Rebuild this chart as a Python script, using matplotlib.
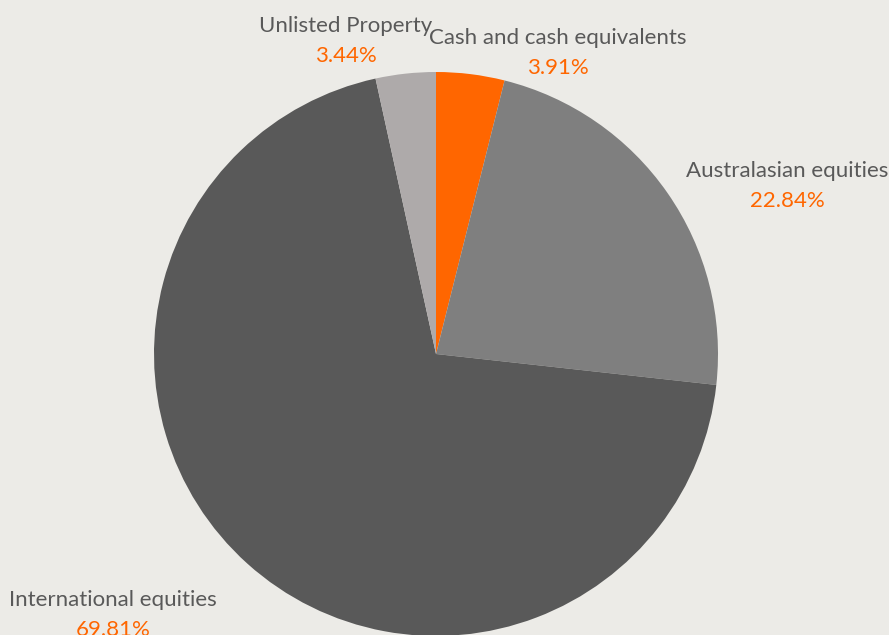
import matplotlib
matplotlib.use("Agg")
import matplotlib.pyplot as plt

categories = ["Cash and cash equivalents", "Australasian equities",
              "International equities", "Unlisted Property"]
values = [3.91, 22.84, 69.81, 3.44]
colors = ["#FF6600", "#7F7F7F", "#595959", "#AEAAAA"]
# label anchor positions in pixel space (x, y from top)
label_pos = [(558, 38), (787, 171), (113, 600), (346, 26)]

W, H = 889, 635
bg = "#ECEBE7"
fig = plt.figure(figsize=(W / 100, H / 100), dpi=100, facecolor=bg)
ax = fig.add_axes([0, 0, 1, 1])
ax.set_facecolor(bg)

ax.pie(values, colors=colors, startangle=90, counterclock=False,
       center=(436, H - 354), radius=282, frame=True,
       wedgeprops=dict(linewidth=0))
ax.set_xlim(0, W)
ax.set_ylim(0, H)
ax.set_aspect("equal")
ax.axis("off")

for cat, val, (x, y) in zip(categories, values, label_pos):
    ax.text(x, H - y, cat, ha="center", va="center", fontsize=16,
            family="Lato", color="#595959")
    ax.text(x, H - y - 30, f"{val:.2f}%", ha="center", va="center",
            fontsize=16, family="Lato", color="#FF6600")

fig.savefig("out.png", dpi=100, facecolor=bg)
